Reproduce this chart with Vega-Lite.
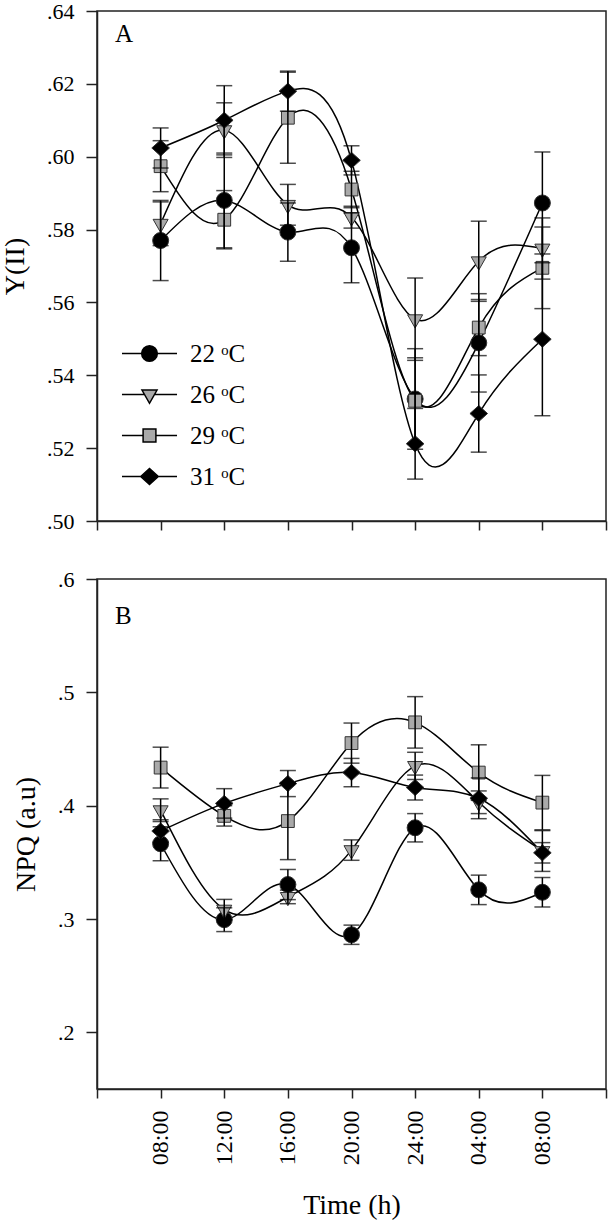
{
  "$schema": "https://vega.github.io/schema/vega-lite/v6.json",
  "background": "white",
  "padding": {"left": 0, "top": -1, "right": 0, "bottom": 0},
  "spacing": 34,
  "config": {
    "font": "Liberation Serif",
    "view": {"stroke": "#222", "strokeWidth": 1.5},
    "axis": {"grid": false, "domainColor": "#222", "domainWidth": 1.5, "tickColor": "#222", "tickWidth": 1.5,
      "labelFont": "Liberation Serif", "labelFontSize": 22, "labelColor": "black",
      "titleFont": "Liberation Serif", "titleFontSize": 28, "titleFontWeight": "normal", "titleColor": "black"}
  },
  "resolve": {"scale": {"shape": "independent", "fill": "independent"}, "legend": {"shape": "independent", "fill": "independent"}},
  "datasets": {
    "A": [
      {"temp": "22", "i": 1, "time": "08:00", "v": 0.577, "e": 0.011},
      {"temp": "22", "i": 2, "time": "12:00", "v": 0.588, "e": 0.013},
      {"temp": "22", "i": 3, "time": "16:00", "v": 0.5793, "e": 0.008},
      {"temp": "22", "i": 4, "time": "20:00", "v": 0.575, "e": 0.0096},
      {"temp": "22", "i": 5, "time": "24:00", "v": 0.5335, "e": 0.0138},
      {"temp": "22", "i": 6, "time": "04:00", "v": 0.5489, "e": 0.0135},
      {"temp": "22", "i": 7, "time": "08:00", "v": 0.5873, "e": 0.014},
      {"temp": "26", "i": 1, "time": "08:00", "v": 0.5816, "e": 0.006},
      {"temp": "26", "i": 2, "time": "12:00", "v": 0.6073, "e": 0.0075},
      {"temp": "26", "i": 3, "time": "16:00", "v": 0.5868, "e": 0.0056},
      {"temp": "26", "i": 4, "time": "20:00", "v": 0.5834, "e": 0.003},
      {"temp": "26", "i": 5, "time": "24:00", "v": 0.5554, "e": 0.0113},
      {"temp": "26", "i": 6, "time": "04:00", "v": 0.5713, "e": 0.011},
      {"temp": "26", "i": 7, "time": "08:00", "v": 0.5748, "e": 0.0084},
      {"temp": "29", "i": 1, "time": "08:00", "v": 0.5974, "e": 0.007},
      {"temp": "29", "i": 2, "time": "12:00", "v": 0.5827, "e": 0.008},
      {"temp": "29", "i": 3, "time": "16:00", "v": 0.6107, "e": 0.0125},
      {"temp": "29", "i": 4, "time": "20:00", "v": 0.591, "e": 0.005},
      {"temp": "29", "i": 5, "time": "24:00", "v": 0.533, "e": 0.0118},
      {"temp": "29", "i": 6, "time": "04:00", "v": 0.5531, "e": 0.0077},
      {"temp": "29", "i": 7, "time": "08:00", "v": 0.5695, "e": 0.0112},
      {"temp": "31", "i": 1, "time": "08:00", "v": 0.6024, "e": 0.0055},
      {"temp": "31", "i": 2, "time": "12:00", "v": 0.61, "e": 0.0095},
      {"temp": "31", "i": 3, "time": "16:00", "v": 0.618, "e": 0.0055},
      {"temp": "31", "i": 4, "time": "20:00", "v": 0.599, "e": 0.004},
      {"temp": "31", "i": 5, "time": "24:00", "v": 0.5212, "e": 0.0097},
      {"temp": "31", "i": 6, "time": "04:00", "v": 0.5295, "e": 0.0106},
      {"temp": "31", "i": 7, "time": "08:00", "v": 0.5499, "e": 0.021}
    ],
    "B": [
      {"temp": "22", "i": 1, "time": "08:00", "v": 0.3664, "e": 0.015},
      {"temp": "22", "i": 2, "time": "12:00", "v": 0.2994, "e": 0.0105},
      {"temp": "22", "i": 3, "time": "16:00", "v": 0.3304, "e": 0.0133},
      {"temp": "22", "i": 4, "time": "20:00", "v": 0.2861, "e": 0.0085},
      {"temp": "22", "i": 5, "time": "24:00", "v": 0.3805, "e": 0.0125},
      {"temp": "22", "i": 6, "time": "04:00", "v": 0.3257, "e": 0.013},
      {"temp": "22", "i": 7, "time": "08:00", "v": 0.3236, "e": 0.013},
      {"temp": "26", "i": 1, "time": "08:00", "v": 0.396, "e": 0.01},
      {"temp": "26", "i": 2, "time": "12:00", "v": 0.3083, "e": 0.009},
      {"temp": "26", "i": 3, "time": "16:00", "v": 0.3195, "e": 0.006},
      {"temp": "26", "i": 4, "time": "20:00", "v": 0.3608, "e": 0.009},
      {"temp": "26", "i": 5, "time": "24:00", "v": 0.4351, "e": 0.012},
      {"temp": "26", "i": 6, "time": "04:00", "v": 0.403, "e": 0.01},
      {"temp": "26", "i": 7, "time": "08:00", "v": 0.36, "e": 0.018},
      {"temp": "29", "i": 1, "time": "08:00", "v": 0.4336, "e": 0.018},
      {"temp": "29", "i": 2, "time": "12:00", "v": 0.391, "e": 0.009},
      {"temp": "29", "i": 3, "time": "16:00", "v": 0.3864, "e": 0.034},
      {"temp": "29", "i": 4, "time": "20:00", "v": 0.4552, "e": 0.0177},
      {"temp": "29", "i": 5, "time": "24:00", "v": 0.4735, "e": 0.0227},
      {"temp": "29", "i": 6, "time": "04:00", "v": 0.4292, "e": 0.0245},
      {"temp": "29", "i": 7, "time": "08:00", "v": 0.4027, "e": 0.024},
      {"temp": "31", "i": 1, "time": "08:00", "v": 0.3776, "e": 0.01},
      {"temp": "31", "i": 2, "time": "12:00", "v": 0.402, "e": 0.013},
      {"temp": "31", "i": 3, "time": "16:00", "v": 0.4195, "e": 0.0115},
      {"temp": "31", "i": 4, "time": "20:00", "v": 0.4292, "e": 0.0125},
      {"temp": "31", "i": 5, "time": "24:00", "v": 0.416, "e": 0.011},
      {"temp": "31", "i": 6, "time": "04:00", "v": 0.4065, "e": 0.018},
      {"temp": "31", "i": 7, "time": "08:00", "v": 0.3584, "e": 0.009}
    ]
  },
  "vconcat": [
    {
      "width": 509,
      "height": 510,
      "resolve": {"scale": {"shape": "independent", "fill": "independent"}, "legend": {"shape": "independent", "fill": "independent"}},
      "layer": [
        {"data": {"name": "A"}, "mark": {"type": "line", "interpolate": "natural", "color": "black", "strokeWidth": 1.5},
          "encoding": {
            "x": {"field": "i", "type": "quantitative", "title": null, "scale": {"domain": [0, 8], "nice": false, "zero": false},
              "axis": {"values": [0, 1, 2, 3, 4, 5, 6, 7, 8], "labels": false, "title": null, "tickSize": 9}},
            "y": {"field": "v", "type": "quantitative", "title": "Y(II)", "scale": {"domain": [0.5, 0.64], "nice": false, "zero": false},
              "axis": {"values": [0.5, 0.52, 0.54, 0.56, 0.58, 0.6, 0.62, 0.64], "labelExpr": "replace(format(datum.value, '.2f'), '0.', '.')", "tickSize": 11, "labelPadding": 12, "titlePadding": 17}},
            "detail": {"field": "temp"}}},
        {"data": {"name": "A"}, "mark": {"type": "point", "filled": true, "size": 0, "stroke": "black", "strokeWidth": 1.5},
          "encoding": {
            "x": {"field": "i", "type": "quantitative", "title": null},
            "y": {"field": "v", "type": "quantitative", "title": "Y(II)"},
            "shape": {"field": "temp", "type": "nominal", "scale": {"domain": ["22", "26", "29", "31"], "range": ["M-3.44,0H-0.98M0.98,0H3.44M0.98,0A0.98,0.98,0,1,1,-0.98,0A0.98,0.98,0,1,1,0.98,0Z", "M-3.44,0H-0.63M0.63,0H3.44M-0.94,-0.55L0.94,-0.55L0,1.1Z", "M-3.44,0H-0.8M0.8,0H3.44M-0.8,-0.8H0.8V0.8H-0.8Z", "M-3.44,0H-1.1M1.1,0H3.44M-1.1,0L0,-1L1.1,0L0,1Z"]},
              "legend": {"orient": "none", "legendX": 20, "legendY": 330, "title": null, "labelExpr": "datum.label + ' ᵒC'", "labelFont": "Liberation Serif", "labelFontSize": 25, "labelColor": "black", "symbolSize": 256, "symbolOffset": 20, "labelOffset": 28, "rowPadding": 15, "symbolOpacity": 1}},
            "fill": {"field": "temp", "type": "nominal", "scale": {"domain": ["22", "26", "29", "31"], "range": ["black", "#a9a9a9", "#a9a9a9", "black"]}, "legend": null}
          }},
        {"data": {"name": "A"}, "mark": {"type": "point", "filled": true, "size": 256, "stroke": "#333", "strokeWidth": 1, "opacity": 1},
          "encoding": {
            "x": {"field": "i", "type": "quantitative", "title": null},
            "y": {"field": "v", "type": "quantitative", "title": "Y(II)"},
            "shape": {"field": "temp", "type": "nominal", "scale": {"range": ["circle", "M-0.94,-0.55L0.94,-0.55L0,1.1Z", "M-0.8,-0.8H0.8V0.8H-0.8Z", "M-1.1,0L0,-1L1.1,0L0,1Z"]}, "legend": null},
            "fill": {"field": "temp", "type": "nominal", "scale": {"range": ["black", "#a9a9a9", "#a9a9a9", "black"]}, "legend": null}
          }},
        {"data": {"name": "A"}, "mark": {"type": "errorbar", "ticks": {"size": 16}, "thickness": 1.5, "color": "black"},
          "encoding": {"x": {"field": "i", "type": "quantitative", "title": null}, "y": {"field": "v", "type": "quantitative", "title": "Y(II)"}, "yError": {"field": "e"}}},
        {"data": {"values": [{"panel": "A"}]}, "mark": {"type": "text", "align": "left", "baseline": "alphabetic", "fontSize": 25, "font": "Liberation Serif", "color": "black"},
          "encoding": {"text": {"field": "panel", "type": "nominal"}, "x": {"datum": 0.283, "type": "quantitative", "title": null}, "y": {"datum": 0.6315, "type": "quantitative", "title": "Y(II)"}}}
      ]
    },
    {
      "width": 509,
      "height": 510,
      "layer": [
        {"data": {"name": "B"}, "mark": {"type": "line", "interpolate": "natural", "color": "black", "strokeWidth": 1.5},
          "encoding": {
            "x": {"field": "i", "type": "quantitative", "title": "Time (h)", "scale": {"domain": [0, 8], "nice": false, "zero": false},
              "axis": {"values": [0, 1, 2, 3, 4, 5, 6, 7, 8], "labelExpr": "['', '08:00', '12:00', '16:00', '20:00', '24:00', '04:00', '08:00', ''][datum.value]", "labelAngle": 270, "labelFontSize": 24, "labelPadding": 12, "labelOverlap": false, "labelFlush": false, "titlePadding": 27, "tickSize": 9}},
            "y": {"field": "v", "type": "quantitative", "title": "NPQ (a.u)", "scale": {"domain": [0.15, 0.6], "nice": false, "zero": false},
              "axis": {"values": [0.2, 0.3, 0.4, 0.5, 0.6], "labelExpr": "replace(format(datum.value, '.1f'), '0.', '.')", "tickSize": 11, "labelPadding": 12, "titlePadding": 17}},
            "detail": {"field": "temp"}}},
        {"data": {"name": "B"}, "mark": {"type": "point", "filled": true, "size": 256, "stroke": "#333", "strokeWidth": 1, "opacity": 1},
          "encoding": {
            "x": {"field": "i", "type": "quantitative", "title": "Time (h)"},
            "y": {"field": "v", "type": "quantitative", "title": "NPQ (a.u)"},
            "shape": {"field": "temp", "type": "nominal", "scale": {"domain": ["22", "26", "29", "31"], "range": ["circle", "M-0.94,-0.55L0.94,-0.55L0,1.1Z", "M-0.8,-0.8H0.8V0.8H-0.8Z", "M-1.1,0L0,-1L1.1,0L0,1Z"]}, "legend": null},
            "fill": {"field": "temp", "type": "nominal", "scale": {"range": ["black", "#a9a9a9", "#a9a9a9", "black"]}, "legend": null}
          }},
        {"data": {"name": "B"}, "mark": {"type": "errorbar", "ticks": {"size": 16}, "thickness": 1.5, "color": "black"},
          "encoding": {"x": {"field": "i", "type": "quantitative", "title": "Time (h)"}, "y": {"field": "v", "type": "quantitative", "title": "NPQ (a.u)"}, "yError": {"field": "e"}}},
        {"data": {"values": [{"panel": "B"}]}, "mark": {"type": "text", "align": "left", "baseline": "alphabetic", "fontSize": 25, "font": "Liberation Serif", "color": "black"},
          "encoding": {"text": {"field": "panel", "type": "nominal"}, "x": {"datum": 0.283, "type": "quantitative", "title": "Time (h)"}, "y": {"datum": 0.5603, "type": "quantitative", "title": "NPQ (a.u)"}}}
      ]
    }
  ]
}
